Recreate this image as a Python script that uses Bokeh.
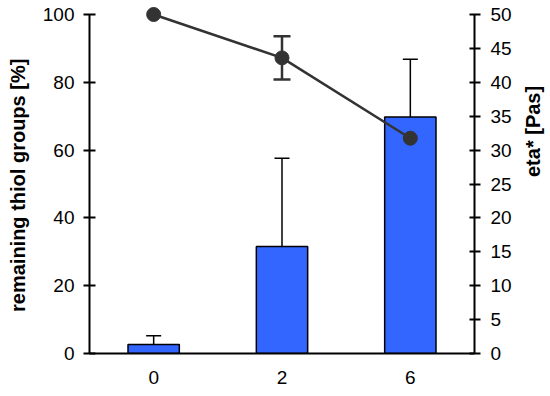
import math
from bokeh.plotting import figure
from bokeh.models import (FactorRange, Range1d, LinearAxis, FixedTicker, ColumnDataSource,
                          Whisker, TeeHead)
from bokeh.embed import file_html
from bokeh.resources import INLINE

# data
times = ["0", "2", "6"]
eta_mean = [1.33, 15.8, 34.9]          # eta* [Pas], bars (right axis)
eta_err = [1.3, 13.0, 8.5]
thiol_mean = [100.0, 87.2, 63.5]       # remaining thiol groups [%], line (left axis)
thiol_err = [0.0, 6.4, 4.3]
left_ticks = [0, 20, 40, 60, 80, 100]
right_ticks = [0, 5, 10, 15, 20, 25, 30, 35, 40, 45, 50]

FONT = "Liberation Sans"
YTOP = 104.13
NB = "\u00a0"

p = figure(frame_width=385, frame_height=353, x_range=FactorRange(*times),
           y_range=Range1d(0, YTOP), output_backend="svg", toolbar_location=None,
           min_border_left=89, min_border_right=76, min_border_top=0, min_border_bottom=43)
p.extra_y_ranges = {"eta": Range1d(0, YTOP / 2)}
p.outline_line_color = None
p.xgrid.visible = False
p.ygrid.visible = False

bar_src = ColumnDataSource(dict(x=times, top=eta_mean,
                                upper=[m + e for m, e in zip(eta_mean, eta_err)]))
line_src = ColumnDataSource(dict(x=times, y=thiol_mean))
wi = [i for i, e in enumerate(thiol_err) if e > 0]
lw_src = ColumnDataSource(dict(x=[times[i] for i in wi],
                               lo=[thiol_mean[i] - thiol_err[i] for i in wi],
                               hi=[thiol_mean[i] + thiol_err[i] for i in wi]))

p.vbar(x="x", top="top", width=0.4, source=bar_src, y_range_name="eta",
       fill_color="#3366FF", line_color="black", line_width=1.5)
p.add_layout(Whisker(source=bar_src, base="x", lower="top", upper="upper", y_range_name="eta",
                     line_color="black", line_width=1.5,
                     upper_head=TeeHead(size=15, line_color="black", line_width=1.5),
                     lower_head=None))

p.line(x="x", y="y", source=line_src, line_color="#333333", line_width=2.5)
p.add_layout(Whisker(source=lw_src, base="x", lower="lo", upper="hi",
                     line_color="#333333", line_width=2.5,
                     upper_head=TeeHead(size=17, line_color="#333333", line_width=2.5),
                     lower_head=TeeHead(size=17, line_color="#333333", line_width=2.5)))
p.scatter(x="x", y="y", source=line_src, size=14, marker="circle",
          fill_color="#333333", line_color="#333333")

# left axis
ax = p.yaxis[0]
ax.ticker = FixedTicker(ticks=left_ticks)
ax.bounds = (0, 100)
ax.axis_label = "remaining thiol groups [%]" + NB * 3
ax.axis_label_text_font = FONT
ax.axis_label_text_font_style = "bold"
ax.axis_label_text_font_size = "20px"
ax.axis_label_text_color = "black"
ax.axis_label_standoff = 11
ax.major_label_text_font = FONT
ax.major_label_text_font_size = "19px"
ax.major_label_text_color = "black"
ax.major_label_standoff = 9
ax.axis_line_width = 2
ax.axis_line_color = "black"
ax.major_tick_in = 6
ax.major_tick_out = 6
ax.major_tick_line_width = 2
ax.minor_tick_line_color = None

# right axis
rax = LinearAxis(y_range_name="eta", ticker=FixedTicker(ticks=right_ticks), bounds=(0, 50))
rax.axis_label = "eta* [Pas]" + NB * 13
rax.axis_label_text_font = FONT
rax.axis_label_text_font_style = "bold"
rax.axis_label_text_font_size = "20px"
rax.axis_label_text_color = "black"
rax.axis_label_standoff = 18
if "axis_label_orientation" in rax.properties():
    rax.axis_label_orientation = math.pi / 2
rax.major_label_text_font = FONT
rax.major_label_text_font_size = "19px"
rax.major_label_text_color = "black"
rax.major_label_standoff = 10
rax.axis_line_width = 2
rax.axis_line_color = "black"
rax.major_tick_in = 5
rax.major_tick_out = 6
rax.major_tick_line_width = 2
rax.minor_tick_line_color = None
p.add_layout(rax, "right")

# bottom axis
bx = p.xaxis[0]
bx.axis_line_width = 2
bx.axis_line_color = "black"
bx.major_tick_line_color = None
bx.major_tick_in = 0
bx.major_tick_out = 0
bx.major_label_text_font = FONT
bx.major_label_text_font_size = "19px"
bx.major_label_text_color = "black"
bx.major_label_standoff = 17

open("out.html", "w").write(file_html(p, INLINE))
